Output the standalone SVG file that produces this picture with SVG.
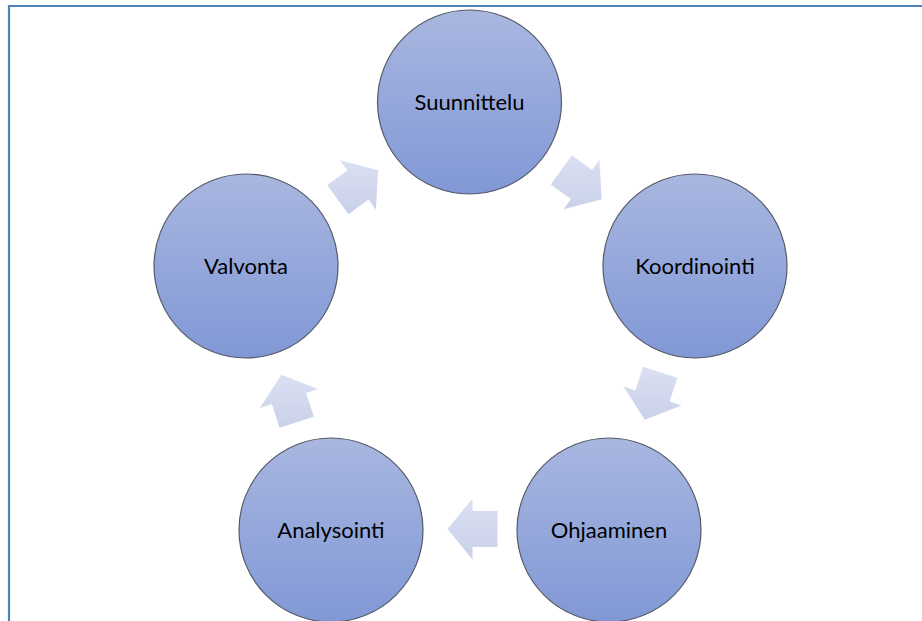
<svg xmlns="http://www.w3.org/2000/svg" width="922" height="621" viewBox="0 0 922 621">
<defs>
<linearGradient id="gCircle" x1="0" y1="0" x2="0" y2="1">
<stop offset="0" stop-color="#a9b7e0"/>
<stop offset="1" stop-color="#8198d6"/>
</linearGradient>
<linearGradient id="gArrow" x1="0" y1="0" x2="0" y2="1">
<stop offset="0" stop-color="#dbe0f1"/>
<stop offset="1" stop-color="#c9d1ea"/>
</linearGradient>
</defs>
<style>
.node{fill:url(#gCircle);stroke:#555a66;stroke-width:1.2}
.lbl{font-family:Lato,"Liberation Sans",sans-serif;font-size:22px;fill:#000;text-anchor:middle}
.arr{fill:url(#gArrow);stroke:none}
.frame{stroke:#4f81bd;stroke-width:2.2;fill:none}
</style>
<rect width="922" height="621" fill="#ffffff"/>
<path class="frame" d="M9,621 L9,6 L922,6"/>
<g id="connectors">
<polygon class="arr" points="601.7,199.2 599.4,159.8 592.1,169.9 571.9,155.3 550.7,184.4 570.9,199.1 563.6,209.2"/>
<polygon class="arr" points="644.8,419.8 681.5,405.4 669.6,401.6 677.4,377.8 643.1,366.7 635.4,390.4 623.5,386.6"/>
<polygon class="arr" points="447.5,529 472.5,559.5 472.5,547 497.5,547 497.5,511 472.5,511 472.5,498.5"/>
<polygon class="arr" points="281.3,374.7 260,407.9 271.9,404.1 279.6,427.8 313.9,416.7 306.1,392.9 318,389.1"/>
<polygon class="arr" points="378.2,170.3 340.1,160.3 347.4,170.4 327.2,185.1 348.4,214.3 368.6,199.6 375.9,209.7"/>
</g>
<g id="suunnittelu">
<circle class="node" cx="469.5" cy="102" r="92"/>
<text class="lbl" x="469.5" y="110">Suunnittelu</text>
</g>
<g id="koordinointi">
<circle class="node" cx="695" cy="266" r="92"/>
<text class="lbl" x="695" y="274">Koordinointi</text>
</g>
<g id="ohjaaminen">
<circle class="node" cx="609" cy="530" r="92"/>
<text class="lbl" x="609" y="538">Ohjaaminen</text>
</g>
<g id="analysointi">
<circle class="node" cx="331" cy="530" r="92"/>
<text class="lbl" x="331" y="538">Analysointi</text>
</g>
<g id="valvonta">
<circle class="node" cx="246" cy="266" r="92"/>
<text class="lbl" x="246" y="274">Valvonta</text>
</g>
</svg>
